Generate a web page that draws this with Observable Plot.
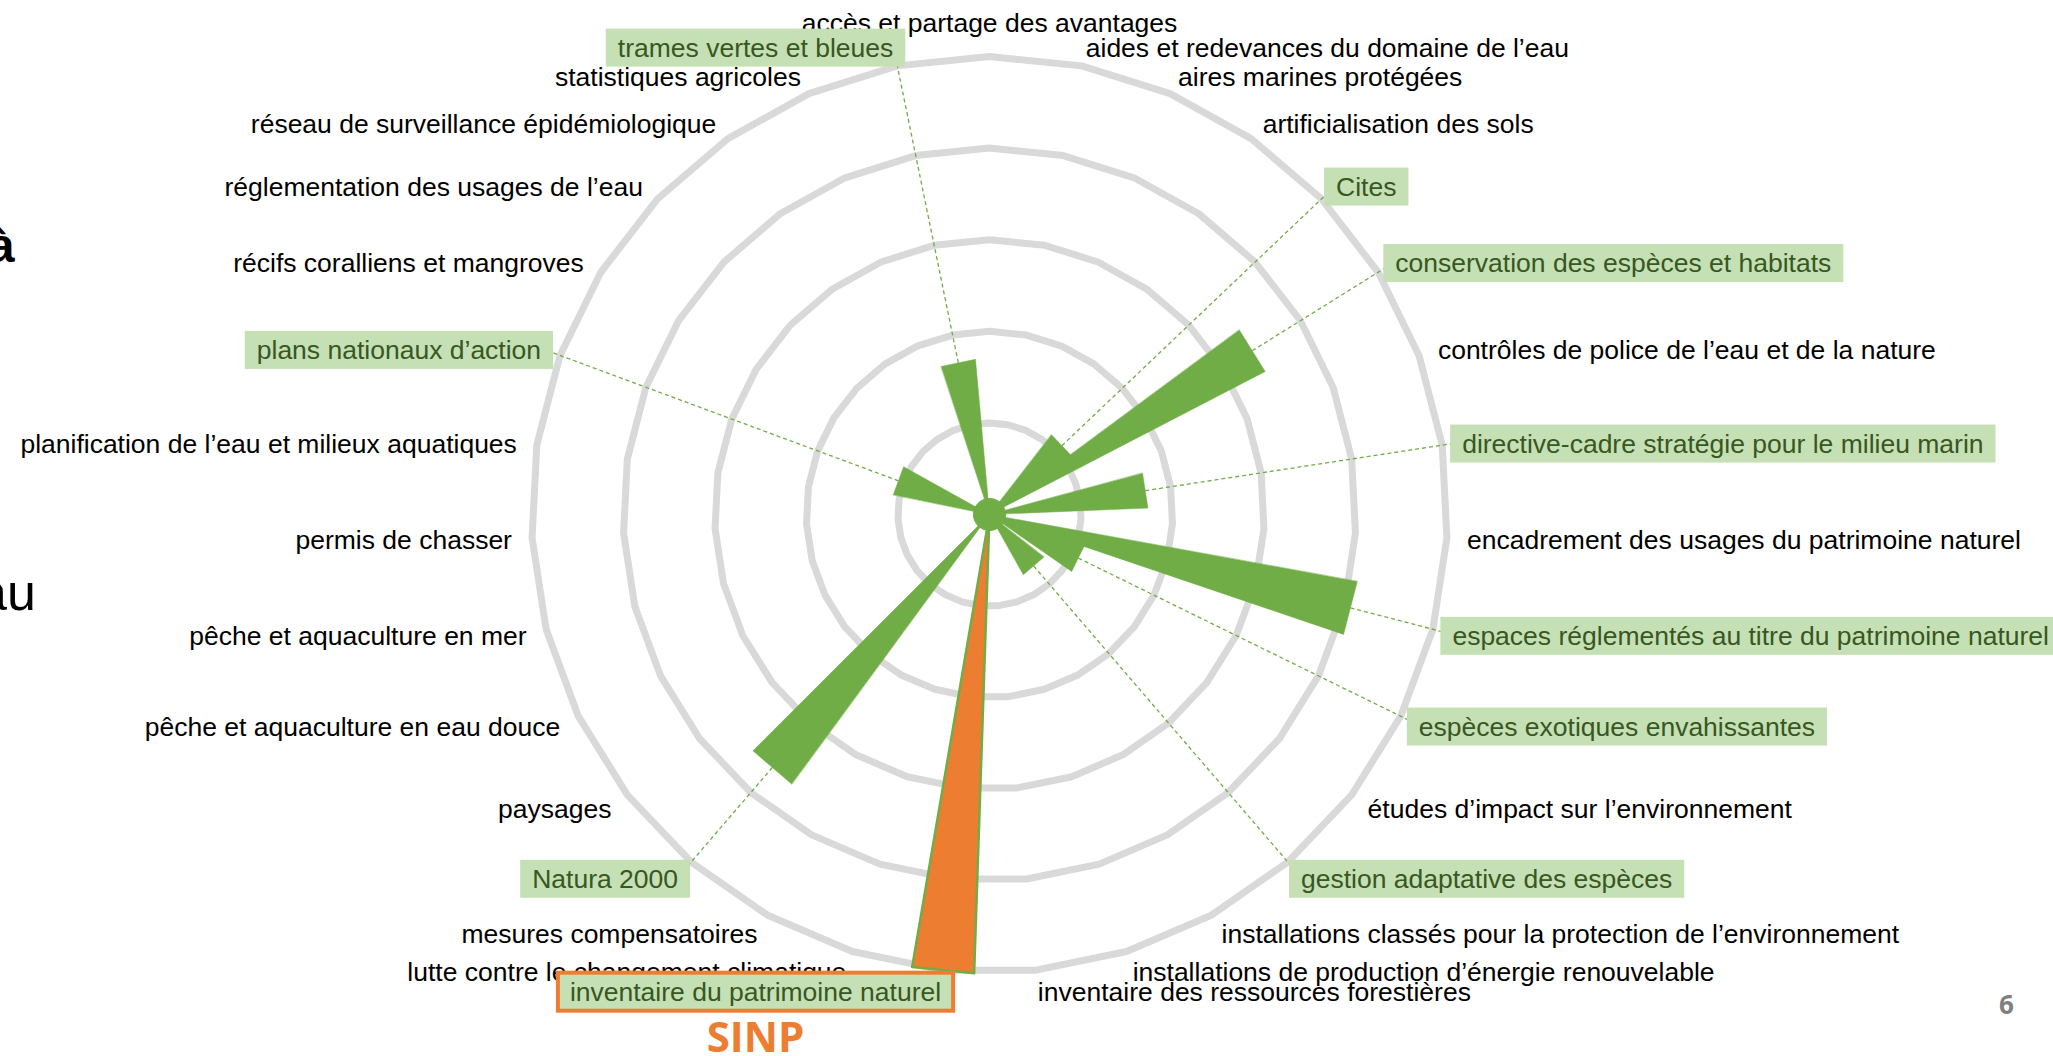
<!DOCTYPE html>
<html>
<head>
<meta charset="utf-8">
<script src="https://cdn.jsdelivr.net/npm/d3@7"></script>
<script src="https://cdn.jsdelivr.net/npm/@observablehq/plot@0.6"></script>
<style>
  html, body { margin: 0; padding: 0; background: #fff; overflow: hidden; }
  #wrap { position: relative; width: 2053px; height: 1056px; overflow: hidden; }
  #wrap svg { position: absolute; left: 0; top: 0; }
  .frag { position: absolute; font-family: "Liberation Sans", Arial, sans-serif; color: #000; white-space: nowrap; }
  #page { position: absolute; font-family: "Open Sans", sans-serif; font-weight: 700; font-size: 26px; color: #7f7f7f; }
</style>
</head>
<body>
<div id="wrap">
  <div class="frag" style="left:-12px; top:222px; font-size:48px; line-height:48px; font-weight:700;">à</div>
  <div class="frag" style="left:-22px; top:566px; font-size:52px; line-height:52px;">au</div>
  <div id="page" style="left:1999px; top:986px; line-height:36px;">6</div>
</div>
<script>
// ---------- data ----------
const categories = [
  "accès et partage des avantages",
  "aides et redevances du domaine de l’eau",
  "aires marines protégées",
  "artificialisation des sols",
  "Cites",
  "conservation des espèces et habitats",
  "contrôles de police de l’eau et de la nature",
  "directive-cadre stratégie pour le milieu marin",
  "encadrement des usages du patrimoine naturel",
  "espaces réglementés au titre du patrimoine naturel",
  "espèces exotiques envahissantes",
  "études d’impact sur l’environnement",
  "gestion adaptative des espèces",
  "installations classés pour la protection de l’environnement",
  "installations de production d’énergie renouvelable",
  "inventaire des ressources forestières",
  "inventaire du patrimoine naturel",
  "lutte contre le changement climatique",
  "mesures compensatoires",
  "Natura 2000",
  "paysages",
  "pêche et aquaculture en eau douce",
  "pêche et aquaculture en mer",
  "permis de chasser",
  "planification de l’eau et milieux aquatiques",
  "plans nationaux d’action",
  "récifs coralliens et mangroves",
  "réglementation des usages de l’eau",
  "réseau de surveillance épidémiologique",
  "statistiques agricoles",
  "trames vertes et bleues"
];
const values = [
  0, 0, 0, 0, 1.09, 3.38, 0, 1.72, 0, 4.07,
  1.08, 0, 0.74, 0, 0, 0, 5.0, 0, 0, 3.64,
  0, 0, 0, 0, 0, 1.06, 0, 0, 0, 0,
  1.69
];
const highlighted = [
  "Cites",
  "conservation des espèces et habitats",
  "directive-cadre stratégie pour le milieu marin",
  "espaces réglementés au titre du patrimoine naturel",
  "espèces exotiques envahissantes",
  "gestion adaptative des espèces",
  "inventaire du patrimoine naturel",
  "Natura 2000",
  "plans nationaux d’action",
  "trames vertes et bleues"
];
const featured = "inventaire du patrimoine naturel";
const featuredTag = "SINP";
const ringLevels = [1, 2, 3, 4, 5];
const centerValue = 0.175;

// ---------- geometry helpers ----------
const N = categories.length;
const RL = 5.22;               // label radius (in value units)
const unit = 91.6;             // px per value unit
const cx = 989, cy = 514;      // chart centre in px
const ang = i => i * 2 * Math.PI / N;
const px = (r, i) => r * Math.sin(ang(i));
const py = (r, i) => r * Math.cos(ang(i));

const GREEN = "#70ad47", ORANGE = "#ed7d31", RING = "#d9d9d9";
const BOX = "#c5e0b4", HLTEXT = "#385723";

const ringPts = ringLevels.flatMap(level => categories.map((c, i) => ({level, i})));

const rows = categories.map((c, i) => ({c, i, v: values[i], hl: highlighted.includes(c), feat: c === featured}));
const wedgePts = rows.filter(d => d.v > 0).flatMap(d => {
  const a = ang(d.i), h = 0.115 + 0.045 * d.v;
  const ux = Math.sin(a), uy = Math.cos(a), nx = Math.cos(a), ny = -Math.sin(a);
  return [
    {c: d.c, feat: d.feat, x: 0, y: 0},
    {c: d.c, feat: d.feat, x: d.v * ux + h * nx, y: d.v * uy + h * ny},
    {c: d.c, feat: d.feat, x: d.v * ux - h * nx, y: d.v * uy - h * ny}
  ];
});
const linkRows = rows.filter(d => d.hl && !d.feat && d.v > 0);
const side = i => { const s = Math.sin(ang(i)); return Math.abs(s) < 1e-6 ? "middle" : s > 0 ? "start" : "end"; };

const labelMarks = [];
for (const hl of [false, true]) {
  for (const s of ["start", "end", "middle"]) {
    const data = rows.filter(d => d.hl === hl && side(d.i) === s);
    if (!data.length) continue;
    labelMarks.push(Plot.text(data, {
      x: d => px(RL, d.i), y: d => py(RL, d.i), text: "c",
      textAnchor: s, lineAnchor: s === "middle" ? "bottom" : "middle",
      dy: s === "middle" ? -4 : 2,
      fill: hl ? HLTEXT : "#000", fontSize: 26.5,
      className: hl ? "hl-label" : "plain-label"
    }));
  }
}

const plot = Plot.plot({
  width: 2053, height: 1056, margin: 0,
  style: {fontFamily: "'Liberation Sans', Arial, sans-serif", background: "transparent"},
  x: {domain: [-cx / unit, (2053 - cx) / unit], axis: null},
  y: {domain: [-(1056 - cy) / unit, cy / unit], axis: null},
  marks: [
    Plot.line(ringPts, {x: d => px(d.level, d.i), y: d => py(d.level, d.i), z: "level",
      curve: "linear-closed", stroke: RING, strokeWidth: 7, strokeLinejoin: "miter"}),
    Plot.line(wedgePts.filter(d => !d.feat), {x: "x", y: "y", z: "c", curve: "linear-closed",
      fill: GREEN, stroke: GREEN, strokeWidth: 0.5}),
    Plot.line(wedgePts.filter(d => d.feat), {x: "x", y: "y", z: "c", curve: "linear-closed",
      fill: ORANGE, stroke: GREEN, strokeWidth: 2.5}),
    Plot.line(categories.map((c, i) => i), {x: i => px(centerValue, i), y: i => py(centerValue, i),
      curve: "linear-closed", fill: GREEN, stroke: GREEN, strokeWidth: 1}),
    Plot.link(linkRows, {x1: d => px(d.v, d.i), y1: d => py(d.v, d.i), x2: d => px(RL, d.i), y2: d => py(RL, d.i),
      stroke: GREEN, strokeWidth: 1.3, strokeDasharray: "4,3"}),
    ...labelMarks
  ]
});
document.getElementById("wrap").prepend(plot);

// highlight boxes behind highlighted labels
const svgNS = "http://www.w3.org/2000/svg";
const sr = plot.getBoundingClientRect();
let featBox = null;
plot.querySelectorAll("g.hl-label").forEach(g => {
  const boxes = document.createElementNS(svgNS, "g");
  g.parentNode.insertBefore(boxes, g);
  g.querySelectorAll("text").forEach(t => {
    const r = t.getBoundingClientRect();
    const isFeat = t.textContent === featured;
    const rect = document.createElementNS(svgNS, "rect");
    const padX = 12, padY = 4;
    const bx = r.left - sr.left - padX, by = r.top - sr.top - padY, bw = r.width + 2 * padX, bh = r.height + 2 * padY;
    rect.setAttribute("x", bx); rect.setAttribute("y", by);
    rect.setAttribute("width", bw); rect.setAttribute("height", bh);
    rect.setAttribute("fill", BOX);
    if (isFeat) {
      rect.setAttribute("stroke", ORANGE); rect.setAttribute("stroke-width", 4);
      featBox = {bx, by, bw, bh};
    }
    boxes.appendChild(rect);
  });
});
if (featBox) {
  d3.select(plot).append("text")
    .attr("x", featBox.bx + featBox.bw / 2)
    .attr("y", featBox.by + featBox.bh + 25)
    .attr("text-anchor", "middle").attr("dominant-baseline", "central")
    .attr("fill", ORANGE).attr("font-family", "'Open Sans', sans-serif")
    .attr("font-weight", 700).attr("font-size", 42)
    .text(featuredTag);
}
</script>
</body>
</html>
